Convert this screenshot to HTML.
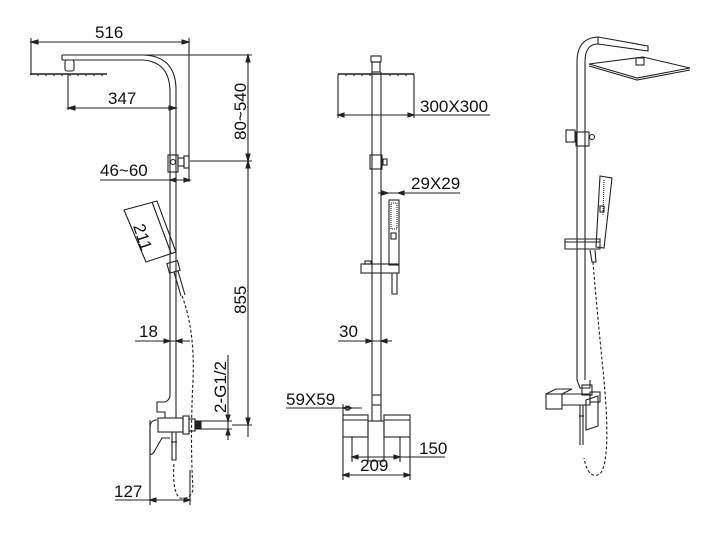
<!DOCTYPE html>
<html><head><meta charset="utf-8"><style>
html,body{margin:0;padding:0;background:#fff;}
svg{display:block;}
text{font-family:"Liberation Sans",sans-serif;font-size:17px;fill:#111;stroke:none;}
</style></head><body>
<svg width="720" height="534" viewBox="0 0 720 534" xmlns="http://www.w3.org/2000/svg" fill="none" stroke="#222" stroke-width="1.1">
<!-- ===== LEFT VIEW ===== -->
<line x1="31" y1="42" x2="189" y2="42"/>
<path d="M31,42 l7,-2 v4z M189,42 l-7,-2 v4z" fill="#222"/>
<line x1="31" y1="38" x2="31" y2="75"/>
<line x1="189" y1="38" x2="189" y2="182"/>
<text x="95" y="38">516</text>
<path d="M62,55 H143 Q176,56 176,90 V395"/>
<path d="M62,60 H143 Q170,62 170,92 V395"/>
<line x1="62" y1="55" x2="62" y2="60"/>
<rect x="65" y="60" width="9" height="11" rx="2"/>
<line x1="30" y1="74" x2="107" y2="74" stroke-width="1.6"/>
<path d="M38,74v2M46,74v2M54,74v2M62,74v2M70,74v2M78,74v2M86,74v2M94,74v2M102,74v2"/>
<line x1="68" y1="74" x2="68" y2="110"/>
<line x1="68" y1="108" x2="176" y2="108"/>
<path d="M68,108 l7,-2 v4z M176,108 l-7,-2 v4z" fill="#222"/>
<text x="108" y="104">347</text>
<line x1="143" y1="55" x2="252" y2="55"/>
<line x1="190" y1="161" x2="252" y2="161"/>
<line x1="248" y1="55" x2="248" y2="437"/>
<path d="M248,55 l-2,7 h4z M248,161 l-2,-7 h4z M248,161 l-2,7 h4z M248,425 l-2,-7 h4z" fill="#222"/>
<line x1="232" y1="425" x2="252" y2="425"/>
<text transform="translate(246,140) rotate(-90)">80~540</text>
<text transform="translate(246,314) rotate(-90)">855</text>
<rect x="168" y="155" width="10" height="17"/>
<circle cx="173" cy="162" r="2.5"/>
<rect x="178" y="158" width="6" height="8"/>
<rect x="184" y="156" width="5" height="12"/>
<line x1="100" y1="180" x2="190" y2="180"/>
<path d="M170,180 l6,-2 v4z M190,180 l-6,-2 v4z" fill="#222"/>
<text x="100" y="176">46~60</text>
<polygon points="124,210 157,201 176,252 146,262"/>
<line x1="152" y1="202" x2="171" y2="253"/>
<text transform="translate(133,226) rotate(72)">211</text>
<rect x="168" y="262" width="11" height="10" transform="rotate(-15 173 267)"/>
<path d="M174,272 L181,296 M178,271 L185,295"/>
<line x1="135" y1="341" x2="190" y2="341"/>
<path d="M170,341 l-6,-2 v4z M176,341 l6,-2 v4z" fill="#222"/>
<text x="139" y="337">18</text>
<path d="M170,395 Q170,400 165,402 H157 V412 H165 V418 M176,395 V418"/>
<rect x="158" y="418" width="25" height="14"/>
<rect x="183" y="416" width="6" height="18"/>
<rect x="189" y="419" width="6" height="12"/>
<rect x="195" y="421" width="6" height="8" fill="#222"/>
<line x1="201" y1="421" x2="232" y2="421"/>
<line x1="201" y1="429" x2="232" y2="429"/>
<path d="M157,420 Q150,420 150,428 V452 Q150,457 154,452 L162,438 H170"/>
<path d="M172,432 V460 H176 V432"/>
<path d="M171,442 h6"/>
<line x1="228" y1="355" x2="228" y2="440"/>
<path d="M228,421 l-2,-6 h4z M228,429 l-2,6 h4z" fill="#222"/>
<text transform="translate(226,413) rotate(-90)">2-G1/2</text>
<path d="M182,296 Q195,330 193,380 Q190,440 193,490 Q190,500 180,498 Q172,493 174,462" stroke-dasharray="3,2"/>
<line x1="150" y1="420" x2="150" y2="505"/>
<line x1="190" y1="470" x2="190" y2="505"/>
<line x1="115" y1="500" x2="190" y2="500"/>
<path d="M150,500 l6,-2 v4z M190,500 l-6,-2 v4z" fill="#222"/>
<text x="114" y="497">127</text>

<!-- ===== MIDDLE VIEW ===== -->
<rect x="371" y="56" width="10" height="6"/>
<rect x="372" y="62" width="8" height="10"/>
<line x1="338" y1="74" x2="414" y2="74" stroke-width="1.6"/>
<path d="M346,74v2M354,74v2M362,74v2M370,74v2M390,74v2M398,74v2M406,74v2"/>
<line x1="338" y1="74" x2="338" y2="118"/>
<line x1="414" y1="74" x2="414" y2="118"/>
<line x1="338" y1="115" x2="490" y2="115"/>
<path d="M338,115 l6,-2 v4z M414,115 l-6,-2 v4z" fill="#222"/>
<text x="420" y="112">300X300</text>
<line x1="372" y1="72" x2="372" y2="421"/>
<line x1="381" y1="72" x2="381" y2="421"/>
<rect x="370" y="155" width="12" height="14"/>
<rect x="383" y="159" width="4" height="6"/>
<line x1="378" y1="193" x2="460" y2="193"/>
<path d="M388,193 l-6,-2 v4z M398,193 l6,-2 v4z" fill="#222"/>
<text x="411" y="189">29X29</text>
<rect x="389" y="200" width="10" height="65"/>
<rect x="391" y="203" width="6" height="26" stroke-dasharray="1,1"/>
<rect x="391" y="233" width="5" height="6"/>
<rect x="361" y="264" width="38" height="9"/>
<rect x="365" y="261" width="6" height="3"/>
<path d="M392,273 V294 H397 V273"/>
<line x1="338" y1="341" x2="392" y2="341"/>
<path d="M372,341 l-6,-2 v4z M381,341 l6,-2 v4z" fill="#222"/>
<text x="339" y="337">30</text>
<line x1="372" y1="395" x2="381" y2="395"/>
<line x1="372" y1="405" x2="381" y2="405"/>
<rect x="343" y="415" width="25" height="22"/>
<line x1="343" y1="420" x2="368" y2="420"/>
<rect x="384" y="415" width="26" height="22"/>
<line x1="384" y1="420" x2="410" y2="420"/>
<rect x="368" y="421" width="16" height="40"/>
<line x1="352" y1="437" x2="352" y2="462"/>
<line x1="400" y1="437" x2="400" y2="462"/>
<line x1="343" y1="437" x2="343" y2="480"/>
<line x1="410" y1="437" x2="410" y2="480"/>
<line x1="286" y1="408" x2="362" y2="408"/>
<line x1="343" y1="404" x2="343" y2="415"/>
<path d="M343,408 l6,-2 v4z M352,408 l-6,-2 v4z" fill="#222"/>
<text x="286" y="405">59X59</text>
<line x1="352" y1="457" x2="445" y2="457"/>
<path d="M352,457 l6,-2 v4z M400,457 l-6,-2 v4z" fill="#222"/>
<text x="419" y="454">150</text>
<line x1="343" y1="475" x2="410" y2="475"/>
<path d="M343,475 l6,-2 v4z M410,475 l-6,-2 v4z" fill="#222"/>
<text x="360" y="471">209</text>

<!-- ===== RIGHT VIEW ===== -->
<path d="M577,380 V62 Q577,38 598,37 L648,46 V51 L598,44 Q585,44 585,62 V380"/>
<line x1="598" y1="37" x2="598" y2="44"/>
<polygon points="589,64 643,57 690,68 637,78"/>
<path d="M589,66 L637,80 L690,70"/>
<rect x="636" y="58" width="8" height="7"/>
<rect x="566" y="130" width="9" height="12"/>
<rect x="576" y="132" width="13" height="14"/>
<circle cx="592" cy="137" r="2.5"/>
<polygon points="600,176 612,178 604,248 596,247"/>
<path d="M604,180 L603,215" stroke-dasharray="1,1"/>
<rect x="600" y="206" width="4" height="6"/>
<polygon points="565,239 600,239 600,249 565,249"/>
<line x1="565" y1="242" x2="600" y2="242"/>
<path d="M590,250 L592,262 L596,262 L595,250"/>
<path d="M593,262 Q596,300 603,370 Q612,460 600,474 Q588,480 584,458" stroke-dasharray="3,2"/>
<path d="M577,380 L580,388 H590 V380"/>
<rect x="582" y="385" width="10" height="10"/>
<path d="M546,394 L556,389 H572 L562,394 Z"/>
<rect x="546" y="394" width="16" height="15"/>
<path d="M562,394 H590 V405 H562"/>
<rect x="590" y="392" width="10" height="10"/>
<polygon points="586,400 598,396 598,426 586,430"/>
<path d="M580,405 V445 M583,405 V445"/>
<path d="M579,416 h5"/>
</svg>
</body></html>
